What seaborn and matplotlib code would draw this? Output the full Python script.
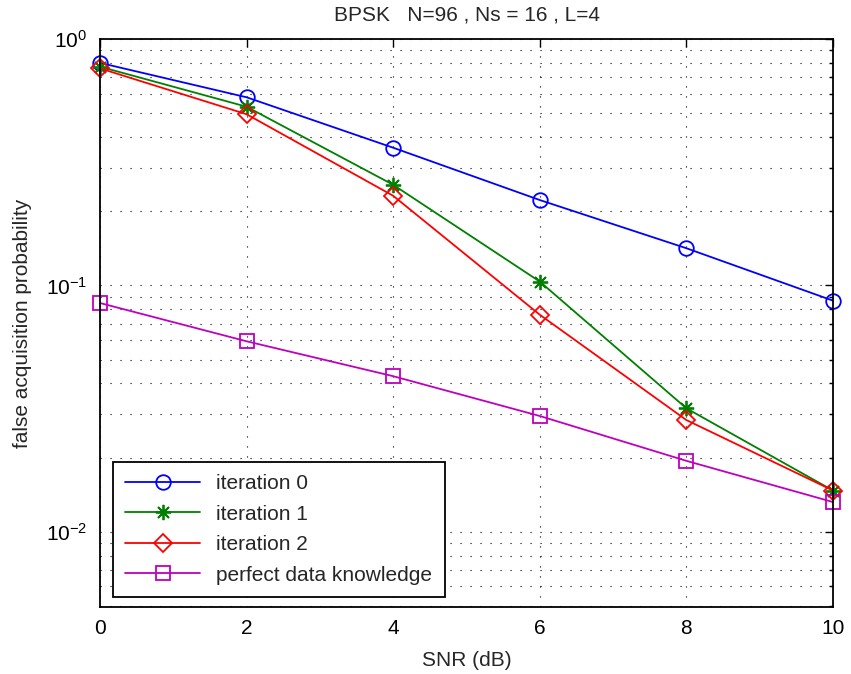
import matplotlib
matplotlib.use("Agg")
import matplotlib.pyplot as plt
import seaborn as sns
import pandas as pd
from matplotlib.ticker import LogLocator, NullFormatter

snr_db = [0, 2, 4, 6, 8, 10]
iter0 = [0.80, 0.580, 0.362, 0.222, 0.1415, 0.0867]
iter1 = [0.772, 0.531, 0.256, 0.1036, 0.0317, 0.0147]
iter2 = [0.76, 0.495, 0.231, 0.076, 0.0284, 0.0147]
perfect = [0.0848, 0.0593, 0.0428, 0.0295, 0.0194, 0.0132]
series_names = ["iteration 0", "iteration 1", "iteration 2", "perfect data knowledge"]
title_text = "BPSK   N=96 , Ns = 16 , L=4"
xlabel_text = "SNR (dB)"
ylabel_text = "false acquisition probability"

sns.set_style("white")
plt.rcParams["font.family"] = ["Liberation Sans", "DejaVu Sans"]
plt.rcParams["mathtext.fontset"] = "custom"
plt.rcParams["mathtext.rm"] = "Liberation Sans"
plt.rcParams["mathtext.it"] = "Liberation Sans"
plt.rcParams["mathtext.default"] = "regular"

fig = plt.figure(figsize=(8.51, 6.74), dpi=100)
ax = fig.add_axes([100/851, 1-607/674, (833-100)/851, (607-39)/674])

styles = [
    dict(color=(0, 0, 1), marker="o", ms=10.5),
    dict(color=(0, 0.5, 0), marker=(8, 2, 0), ms=11),
    dict(color=(1, 0, 0), marker="D", ms=9),
    dict(color=(0.75, 0, 0.75), marker="s", ms=10),
]
data = [iter0, iter1, iter2, perfect]
for name, vals, st in zip(series_names, data, styles):
    df = pd.DataFrame({"snr": snr_db, "p": vals})
    sns.lineplot(data=df, x="snr", y="p", ax=ax, color=st["color"], marker=st["marker"],
                 markersize=st["ms"], markerfacecolor="none", markeredgecolor=st["color"],
                 markeredgewidth=1.3, linewidth=1.3, label=name, clip_on=False, zorder=5)

ax.set_yscale("log")
ax.set_ylim(0.00495, 1.0)
ax.set_xlim(0, 10)
ax.set_xticks(snr_db)
ax.yaxis.set_major_locator(LogLocator(base=10, numticks=10))
ax.yaxis.set_minor_locator(LogLocator(base=10, subs=range(2, 10), numticks=100))
ax.yaxis.set_minor_formatter(NullFormatter())

grid_ls = (0, (1, 8))
ax.grid(True, which="major", axis="both", color="black", linestyle=grid_ls, linewidth=0.8)
ax.grid(True, which="minor", axis="y", color="black", linestyle=grid_ls, linewidth=0.8)

for s in ax.spines.values():
    s.set_color("black")
    s.set_linewidth(1.3)
    s.set_zorder(6)
ax.tick_params(which="both", direction="in", top=True, right=True, colors="black",
               labelsize=15, width=1.0)
ax.tick_params(which="major", length=6, pad=9)
ax.tick_params(which="minor", length=3)

ax.set_title(title_text, fontsize=15, pad=13)
ax.set_xlabel(xlabel_text, fontsize=15, labelpad=9)
ax.set_ylabel(ylabel_text, fontsize=15, labelpad=10)

leg = ax.legend(loc="lower left", bbox_to_anchor=(0.0177, 0.0176), fontsize=15,
                frameon=True, fancybox=False, handlelength=3.6, borderpad=0.6,
                labelspacing=0.55, handletextpad=0.75, borderaxespad=0)
leg.get_frame().set_edgecolor("black")
leg.get_frame().set_linewidth(1.3)
leg.get_frame().set_alpha(1)
leg.set_zorder(10)

fig.savefig("out.png", dpi=100)
